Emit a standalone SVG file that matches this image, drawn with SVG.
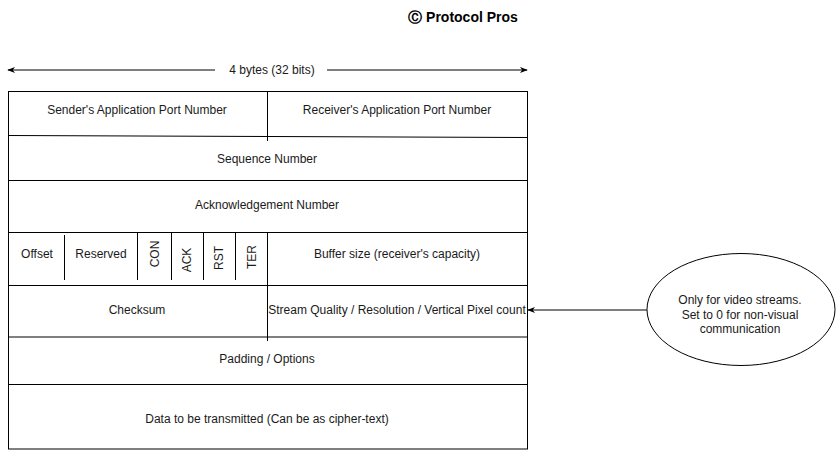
<svg xmlns="http://www.w3.org/2000/svg" width="838" height="451" viewBox="0 0 838 451">
<style>
text{font-family:"Liberation Sans",Arial,sans-serif;font-size:12px;fill:#1a1a1a;text-anchor:middle;dominant-baseline:central}
.ln{stroke:#000;stroke-width:1;fill:none}
.title{font-size:14px;font-weight:bold;fill:#000}
</style>
<defs>
<marker id="ah" viewBox="0 0 10 10" refX="9" refY="5" markerWidth="8" markerHeight="8" orient="auto-start-reverse" markerUnits="userSpaceOnUse"><path d="M0,1 L10,5 L0,9 L3,5 Z" fill="#000"/></marker>
</defs>
<rect width="838" height="451" fill="#fff"/>
<g id="title"><text class="title" x="463" y="17">Ⓒ Protocol Pros</text></g>
<g id="width-label">
<line class="ln" x1="8" y1="70" x2="215" y2="70" marker-start="url(#ah)"/>
<line class="ln" x1="327" y1="70" x2="527" y2="70" marker-end="url(#ah)"/>
<text x="272" y="70">4 bytes (32 bits)</text>
</g>
<g id="frame"><rect class="ln" x="8.5" y="91.5" width="519" height="357.5"/></g>
<g id="row-ports">
<line class="ln" x1="8" y1="135.5" x2="527" y2="137.5"/>
<line class="ln" x1="267.5" y1="91" x2="267.5" y2="141"/>
<text x="137" y="110">Sender's Application Port Number</text>
<text x="397" y="110">Receiver's Application Port Number</text>
</g>
<g id="row-seq">
<line class="ln" x1="8" y1="180.5" x2="527" y2="180.5"/>
<text x="267" y="159">Sequence Number</text>
</g>
<g id="row-ack">
<line class="ln" x1="8" y1="232.5" x2="527" y2="232.5"/>
<text x="267" y="205">Acknowledgement Number</text>
</g>
<g id="row-flags">
<line class="ln" x1="8" y1="285.5" x2="527" y2="285.5"/>
<line class="ln" x1="64.5" y1="235" x2="64.5" y2="280"/>
<line class="ln" x1="137.5" y1="233" x2="137.5" y2="280"/>
<line class="ln" x1="171.5" y1="233" x2="171.5" y2="280"/>
<line class="ln" x1="203.5" y1="233" x2="203.5" y2="280"/>
<line class="ln" x1="235.5" y1="233" x2="235.5" y2="280"/>
<line class="ln" x1="267.5" y1="232" x2="267.5" y2="292"/>
<text x="37" y="254">Offset</text>
<text x="101" y="254">Reserved</text>
<text transform="translate(155,254) rotate(-90)">CON</text>
<text transform="translate(187,260) rotate(-90)">ACK</text>
<text transform="translate(219,258) rotate(-90)">RST</text>
<text transform="translate(252,257) rotate(-90)">TER</text>
<text x="397" y="254">Buffer size (receiver's capacity)</text>
</g>
<g id="row-checksum">
<line class="ln" x1="8" y1="337" x2="527" y2="337"/>
<line class="ln" x1="267.5" y1="284" x2="267.5" y2="341"/>
<text x="137" y="310">Checksum</text>
<text x="397" y="310">Stream Quality / Resolution / Vertical Pixel count</text>
</g>
<g id="row-padding">
<line class="ln" x1="8" y1="384.5" x2="527" y2="384.5"/>
<text x="267" y="359">Padding / Options</text>
</g>
<g id="row-data">
<text x="267" y="419">Data to be transmitted (Can be as cipher-text)</text>
</g>
<g id="note">
<ellipse class="ln" cx="741" cy="309.5" rx="94" ry="56"/>
<text x="740" y="300">Only for video streams.</text>
<text x="740" y="315">Set to 0 for non-visual</text>
<text x="740" y="329">communication</text>
</g>
<g id="connectors">
<line class="ln" x1="647" y1="310" x2="528" y2="310" marker-end="url(#ah)"/>
</g>
</svg>
